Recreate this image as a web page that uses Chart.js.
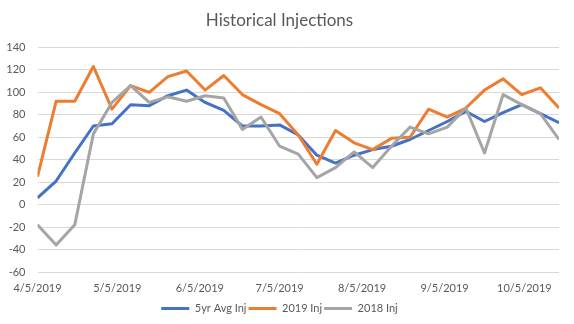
<!DOCTYPE html>
<html>
<head>
<meta charset="utf-8">
<script src="https://cdn.jsdelivr.net/npm/chart.js@4/dist/chart.umd.min.js"></script>
<style>
  html, body { margin: 0; padding: 0; background: #fff; }
  #wrap { width: 574px; height: 324px; position: relative; }
</style>
</head>
<body>
<div id="wrap"><canvas id="chart"></canvas></div>
<script>
// weekly report dates
const weekDates = ['4/5/2019', '4/12/2019', '4/19/2019', '4/26/2019', '5/3/2019', '5/10/2019', '5/17/2019',
  '5/24/2019', '5/31/2019', '6/7/2019', '6/14/2019', '6/21/2019', '6/28/2019', '7/5/2019', '7/12/2019',
  '7/19/2019', '7/26/2019', '8/2/2019', '8/9/2019', '8/16/2019', '8/23/2019', '8/30/2019', '9/6/2019',
  '9/13/2019', '9/20/2019', '9/27/2019', '10/4/2019', '10/11/2019', '10/18/2019'];

const avg5yrInj = [6, 21, 46, 70, 72, 89, 88, 97, 102, 91, 84, 70, 70, 71, 62,
  44, 37, 44, 49, 52, 58, 66, 74, 83, 74, 82, 89, 81, 73];
const inj2019 = [25, 92, 92, 123, 85, 106, 100, 114, 119, 102, 115, 98, 89, 81, 62,
  36, 66, 55, 49, 59, 60, 85, 78, 86, 102, 112, 98, 104, 86];
const inj2018 = [-18, -36, -18, 63, 91, 106, 91, 96, 92, 97, 95, 67, 78, 52, 45,
  24, 33, 47, 33, 52, 69, 63, 69, 86, 46, 98, 89, 81, 58];

const xTickLabels = ['4/5/2019', '5/5/2019', '6/5/2019', '7/5/2019', '8/5/2019', '9/5/2019', '10/5/2019'];
const yMin = -60, yMax = 140, yStep = 20;

const textColor = '#595959';
const fontFamily = 'Lato, "Liberation Sans", sans-serif';

function toDay(s) {
    const [m, d, y] = s.split('/').map(Number);
    return Date.UTC(y, m - 1, d) / 86400000;
}

const xDays = weekDates.map(toDay);
const tickDays = xTickLabels.map(toDay);

function series(values) {
    return values.map((v, i) => ({ x: xDays[i], y: v }));
}

function makeDataset(label, values, color, order) {
    return {
        label: label,
        data: series(values),
        borderColor: color,
        backgroundColor: color,
        borderWidth: 3,
        borderJoinStyle: 'round',
        pointRadius: 0,
        tension: 0,
        order: order
    };
}

new Chart(document.getElementById('chart'), {
    type: 'line',
    data: {
        datasets: [
            makeDataset('5yr Avg Inj', avg5yrInj, '#4472C4', 3),
            makeDataset('2019 Inj', inj2019, '#ED7D31', 2),
            makeDataset('2018 Inj', inj2018, '#A5A5A5', 1)
        ]
    },
    options: {
        responsive: true,
        maintainAspectRatio: false,
        animation: false,
        layout: { padding: { left: 0, right: 15, top: 0, bottom: 0 } },
        plugins: {
            title: {
                display: true,
                text: 'Historical Injections',
                color: textColor,
                font: { family: fontFamily, size: 17, weight: 'normal' },
                padding: { top: 10, bottom: 17 }
            },
            legend: {
                position: 'bottom',
                labels: {
                    color: textColor,
                    font: { family: fontFamily, size: 11 },
                    usePointStyle: true,
                    pointStyle: 'line',
                    pointStyleWidth: 28,
                    padding: 2,
                    sort: (a, b) => a.datasetIndex - b.datasetIndex
                }
            },
            tooltip: { enabled: false }
        },
        scales: {
            x: {
                type: 'linear',
                min: xDays[0],
                max: xDays[xDays.length - 1],
                afterBuildTicks: (axis) => {
                    axis.ticks = tickDays.map(v => ({ value: v }));
                },
                afterFit: (scale) => { scale.height = 29; },
                ticks: {
                    color: textColor,
                    font: { family: fontFamily, size: 11 },
                    padding: 10,
                    maxRotation: 0,
                    autoSkip: false,
                    callback: (value) => {
                        const idx = tickDays.indexOf(value);
                        return idx >= 0 ? xTickLabels[idx] : '';
                    }
                },
                grid: { display: false, drawTicks: false },
                border: { display: false }
            },
            y: {
                min: yMin,
                max: yMax,
                afterFit: (scale) => { scale.width = 37.5; },
                ticks: {
                    stepSize: yStep,
                    color: textColor,
                    font: { family: fontFamily, size: 11 },
                    padding: 12
                },
                grid: { color: '#D9D9D9', lineWidth: 1, drawTicks: false },
                border: { display: false }
            }
        }
    }
});
</script>
</body>
</html>
